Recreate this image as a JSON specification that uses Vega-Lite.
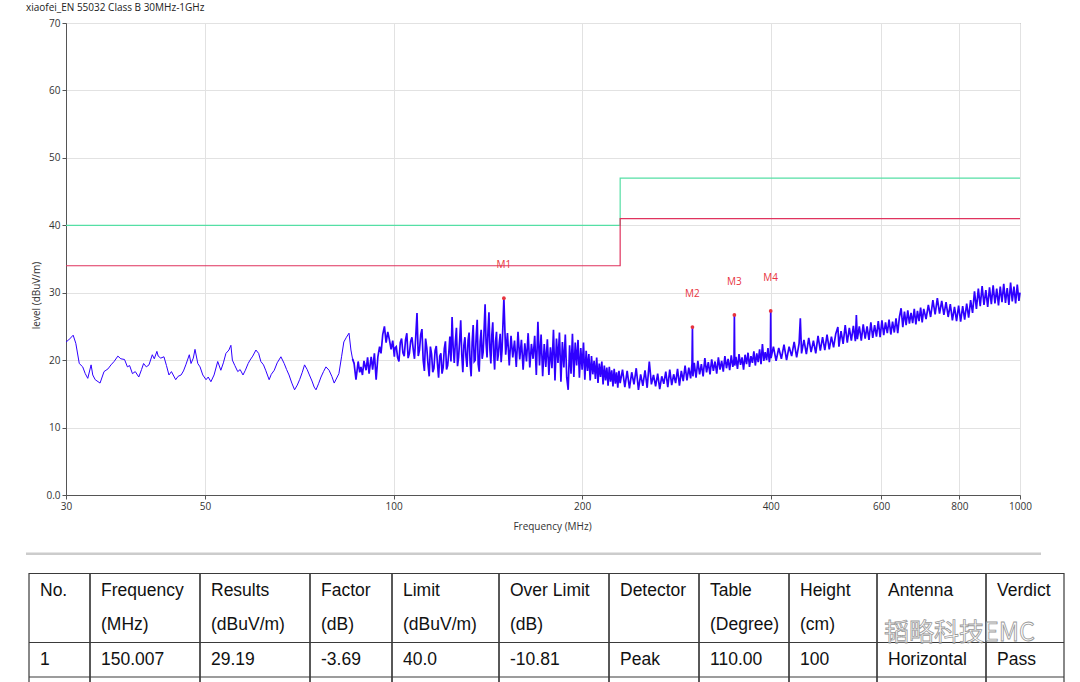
{
  "$schema": "https://vega.github.io/schema/vega-lite/v6.json",
  "background": "white",
  "padding": {"left": 24, "top": 2, "right": 0, "bottom": 0},
  "bounds": "flush",
  "spacing": 44,
  "config": {
    "view": {"stroke": null},
    "font": "Open Sans",
    "axis": {
      "labelFont": "Open Sans", "titleFont": "Open Sans",
      "labelFontSize": 10, "titleFontSize": 10, "titleFontWeight": "normal",
      "labelColor": "#333", "titleColor": "#333",
      "domainColor": "#555", "tickColor": "#555", "tickSize": 4,
      "gridColor": "#e2e2e2", "labelFlush": false, "labelOverlap": false, "labelPadding": 2
    }
  },
  "datasets": {
    "markers": [
      {"name": "M1", "f": 150.007, "v": 29.19},
      {"name": "M2", "f": 300.0, "v": 24.9},
      {"name": "M3", "f": 350.0, "v": 26.7},
      {"name": "M4", "f": 400.0, "v": 27.3}
    ],
    "limits": [
      {"lim": "Limit", "f": 30, "v": 40}, {"lim": "Limit", "f": 230, "v": 47}, {"lim": "Limit", "f": 1000, "v": 47},
      {"lim": "Margin", "f": 30, "v": 34}, {"lim": "Margin", "f": 230, "v": 41}, {"lim": "Margin", "f": 1000, "v": 41}
    ],
    "cols": [
      {"col": "No.", "start": 0, "end": 61},
      {"col": "Frequency", "start": 61, "end": 171},
      {"col": "Results", "start": 171, "end": 281},
      {"col": "Factor", "start": 281, "end": 363},
      {"col": "Limit", "start": 363, "end": 470},
      {"col": "Over Limit", "start": 470, "end": 580},
      {"col": "Detector", "start": 580, "end": 670},
      {"col": "Table", "start": 670, "end": 760},
      {"col": "Height", "start": 760, "end": 848},
      {"col": "Antenna", "start": 848, "end": 957},
      {"col": "Verdict", "start": 957, "end": 1035}
    ],
    "rowlines": [{"l": -0.5}, {"l": 1.5}, {"l": 2.5}],
    "cells": [
      {"col": "No.", "line": 0, "text": "No."},
      {"col": "No.", "line": 2, "text": "1"},
      {"col": "Frequency", "line": 0, "text": "Frequency"},
      {"col": "Frequency", "line": 1, "text": "(MHz)"},
      {"col": "Frequency", "line": 2, "text": "150.007"},
      {"col": "Results", "line": 0, "text": "Results"},
      {"col": "Results", "line": 1, "text": "(dBuV/m)"},
      {"col": "Results", "line": 2, "text": "29.19"},
      {"col": "Factor", "line": 0, "text": "Factor"},
      {"col": "Factor", "line": 1, "text": "(dB)"},
      {"col": "Factor", "line": 2, "text": "-3.69"},
      {"col": "Limit", "line": 0, "text": "Limit"},
      {"col": "Limit", "line": 1, "text": "(dBuV/m)"},
      {"col": "Limit", "line": 2, "text": "40.0"},
      {"col": "Over Limit", "line": 0, "text": "Over Limit"},
      {"col": "Over Limit", "line": 1, "text": "(dB)"},
      {"col": "Over Limit", "line": 2, "text": "-10.81"},
      {"col": "Detector", "line": 0, "text": "Detector"},
      {"col": "Detector", "line": 2, "text": "Peak"},
      {"col": "Table", "line": 0, "text": "Table"},
      {"col": "Table", "line": 1, "text": "(Degree)"},
      {"col": "Table", "line": 2, "text": "110.00"},
      {"col": "Height", "line": 0, "text": "Height"},
      {"col": "Height", "line": 1, "text": "(cm)"},
      {"col": "Height", "line": 2, "text": "100"},
      {"col": "Antenna", "line": 0, "text": "Antenna"},
      {"col": "Antenna", "line": 2, "text": "Horizontal"},
      {"col": "Verdict", "line": 0, "text": "Verdict"},
      {"col": "Verdict", "line": 2, "text": "Pass"}
    ],
    "trace": [
      {"f":30.0,"v":22.7},{"f":30.3,"v":23.0},{"f":30.8,"v":23.7},{"f":31.1,"v":22.5},{"f":31.5,"v":19.5},{"f":31.9,"v":19.0},{"f":32.2,"v":18.0},{"f":32.5,"v":17.3},{"f":32.9,"v":19.3},{"f":33.1,"v":17.8},{"f":33.4,"v":17.1},{"f":34.0,"v":16.6},{"f":34.5,"v":18.3},{"f":35.0,"v":18.7},{"f":35.4,"v":19.3},{"f":35.8,"v":19.8},{"f":36.3,"v":20.6},{"f":36.7,"v":20.2},{"f":37.2,"v":20.1},{"f":37.6,"v":19.0},{"f":37.9,"v":19.2},{"f":38.3,"v":18.0},{"f":38.7,"v":18.3},{"f":39.2,"v":17.5},{"f":39.6,"v":18.6},{"f":39.9,"v":19.5},{"f":40.3,"v":19.0},{"f":40.7,"v":19.3},{"f":41.2,"v":20.8},{"f":41.5,"v":20.2},{"f":41.9,"v":21.3},{"f":42.1,"v":20.6},{"f":42.5,"v":20.3},{"f":43.0,"v":20.5},{"f":43.4,"v":19.2},{"f":43.8,"v":17.8},{"f":44.2,"v":18.3},{"f":44.9,"v":17.1},{"f":45.3,"v":17.6},{"f":45.8,"v":17.8},{"f":46.2,"v":18.4},{"f":46.6,"v":19.3},{"f":47.2,"v":20.8},{"f":47.5,"v":19.5},{"f":47.9,"v":20.3},{"f":48.2,"v":21.6},{"f":48.7,"v":19.5},{"f":49.1,"v":19.0},{"f":49.6,"v":17.8},{"f":50.2,"v":17.1},{"f":50.6,"v":17.5},{"f":51.1,"v":16.8},{"f":51.7,"v":17.8},{"f":52.4,"v":19.8},{"f":53.0,"v":18.5},{"f":53.5,"v":19.6},{"f":54.0,"v":21.0},{"f":54.6,"v":21.5},{"f":55.0,"v":22.2},{"f":55.3,"v":20.0},{"f":55.8,"v":19.2},{"f":56.4,"v":18.3},{"f":56.9,"v":18.6},{"f":57.5,"v":17.8},{"f":58.0,"v":18.5},{"f":58.6,"v":19.5},{"f":59.0,"v":20.0},{"f":59.6,"v":20.6},{"f":60.3,"v":21.5},{"f":60.9,"v":21.0},{"f":61.4,"v":19.8},{"f":62.0,"v":19.3},{"f":62.5,"v":18.5},{"f":63.3,"v":17.1},{"f":63.8,"v":17.9},{"f":64.5,"v":18.5},{"f":65.2,"v":19.6},{"f":66.1,"v":20.5},{"f":66.9,"v":19.5},{"f":67.5,"v":18.6},{"f":68.1,"v":17.8},{"f":68.8,"v":16.6},{"f":69.5,"v":15.6},{"f":70.2,"v":16.3},{"f":70.8,"v":17.1},{"f":71.5,"v":18.2},{"f":72.1,"v":19.3},{"f":72.8,"v":18.6},{"f":73.4,"v":17.8},{"f":74.1,"v":16.9},{"f":74.7,"v":16.0},{"f":75.2,"v":15.6},{"f":75.9,"v":16.5},{"f":76.6,"v":17.5},{"f":77.3,"v":18.3},{"f":78.0,"v":19.0},{"f":78.9,"v":18.5},{"f":79.7,"v":17.6},{"f":80.4,"v":16.6},{"f":81.0,"v":17.2},{"f":81.8,"v":18.0},{"f":82.6,"v":20.5},{"f":83.3,"v":22.7},{"f":84.1,"v":23.4},{"f":84.9,"v":24.0},{"f":85.5,"v":21.5},{"f":86.0,"v":20.2},{"f":86.5,"v":19.5},{"f":87.1,"v":17.1},{"f":87.8,"v":19.8},{"f":88.3,"v":18.2},{"f":88.7,"v":19.0},{"f":89.2,"v":17.8},{"f":89.7,"v":19.9},{"f":90.4,"v":18.5},{"f":90.9,"v":20.4},{"f":91.4,"v":18.0},{"f":92.1,"v":20.5},{"f":92.6,"v":18.6},{"f":93.2,"v":21.0},{"f":93.8,"v":17.1},{"f":94.4,"v":20.5},{"f":95.0,"v":22.0},{"f":95.5,"v":21.0},{"f":96.1,"v":23.8},{"f":96.7,"v":25.0},{"f":97.3,"v":22.6},{"f":97.9,"v":24.2},{"f":98.5,"v":23.0},{"f":99.1,"v":21.6},{"f":99.7,"v":22.9},{"f":100.3,"v":20.5},
      {"f":100.5,"v":21.8},{"f":101,"v":22.0},{"f":101.5,"v":20.4},{"f":102,"v":19.8},{"f":102.5,"v":22.6},{"f":103,"v":23.2},{"f":103.5,"v":21.1},{"f":104,"v":20.6},{"f":104.5,"v":23.0},{"f":105,"v":24.0},{"f":105.5,"v":20.3},{"f":106,"v":21.0},{"f":106.5,"v":22.8},{"f":107,"v":23.4},{"f":107.5,"v":21.6},{"f":108,"v":20.2},{"f":108.5,"v":23.5},{"f":109,"v":27.0},{"f":109.5,"v":20.6},{"f":110,"v":21.5},{"f":110.5,"v":23.8},{"f":111,"v":24.6},{"f":111.5,"v":20.0},{"f":112,"v":18.4},{"f":112.5,"v":23.2},{"f":113,"v":21.8},{"f":113.5,"v":19.4},{"f":114,"v":17.6},{"f":114.5,"v":22.0},{"f":115,"v":20.9},{"f":115.5,"v":18.2},{"f":116,"v":18.8},{"f":116.5,"v":21.4},{"f":117,"v":22.1},{"f":117.5,"v":19.5},{"f":118,"v":17.4},{"f":118.5,"v":20.6},{"f":119,"v":21.0},{"f":119.5,"v":18.0},{"f":120,"v":18.9},{"f":120.5,"v":21.7},{"f":121,"v":22.8},{"f":121.5,"v":18.6},{"f":122,"v":19.2},{"f":122.5,"v":21.0},{"f":123,"v":23.5},{"f":123.5,"v":19.8},{"f":124,"v":26.4},{"f":124.5,"v":21.9},{"f":125,"v":19.6},{"f":125.5,"v":22.7},{"f":126,"v":24.8},{"f":126.5,"v":19.1},{"f":127,"v":20.4},{"f":127.5,"v":22.9},{"f":128,"v":25.9},{"f":128.5,"v":20.8},{"f":129,"v":18.2},{"f":129.5,"v":22.2},{"f":130,"v":23.4},{"f":130.5,"v":20.5},{"f":131,"v":19.0},{"f":131.5,"v":22.9},{"f":132,"v":24.1},{"f":132.5,"v":19.6},{"f":133,"v":17.6},{"f":133.5,"v":22.7},{"f":134,"v":25.2},{"f":134.5,"v":19.8},{"f":135,"v":20.0},{"f":135.5,"v":23.6},{"f":136,"v":26.0},{"f":136.5,"v":19.4},{"f":137,"v":18.3},{"f":137.5,"v":22.8},{"f":138,"v":24.5},{"f":138.5,"v":20.2},{"f":139,"v":21.2},{"f":139.5,"v":24.6},{"f":140,"v":28.3},{"f":140.5,"v":22.5},{"f":141,"v":20.4},{"f":141.5,"v":24.3},{"f":142,"v":27.1},{"f":142.5,"v":21.6},{"f":143,"v":19.5},{"f":143.5,"v":23.7},{"f":144,"v":25.6},{"f":144.5,"v":20.9},{"f":145,"v":18.6},{"f":145.5,"v":22.8},{"f":146,"v":24.2},{"f":146.5,"v":19.9},{"f":147,"v":20.8},{"f":147.5,"v":22.6},{"f":148,"v":23.9},{"f":148.5,"v":19.7},{"f":149,"v":21.5},{"f":150.007,"v":29.19},{"f":151,"v":20.8},{"f":152,"v":24.0},{"f":153,"v":19.2},{"f":154,"v":23.6},{"f":155,"v":20.4},{"f":156,"v":22.9},{"f":157,"v":19.0},{"f":158,"v":24.2},{"f":159,"v":20.1},{"f":160,"v":23.0},{"f":161,"v":18.6},{"f":162,"v":22.5},{"f":163,"v":19.8},{"f":164,"v":24.0},{"f":165,"v":18.9},{"f":166,"v":22.4},{"f":167,"v":20.2},{"f":168,"v":23.6},{"f":169,"v":17.8},{"f":170,"v":25.7},{"f":171,"v":19.2},{"f":172,"v":23.8},{"f":173,"v":17.6},{"f":174,"v":22.4},{"f":175,"v":19.0},{"f":176,"v":23.1},{"f":177,"v":17.8},{"f":178,"v":21.9},{"f":179,"v":18.8},{"f":180,"v":24.5},{"f":181,"v":17.0},{"f":182,"v":23.2},{"f":183,"v":19.6},{"f":184,"v":24.1},{"f":185,"v":16.8},{"f":186,"v":22.7},{"f":187,"v":18.9},{"f":188,"v":23.8},{"f":189,"v":17.4},{"f":190,"v":15.6},{"f":191,"v":22.2},{"f":192,"v":18.0},{"f":193,"v":23.9},{"f":194,"v":17.5},{"f":195,"v":22.6},{"f":196,"v":19.2},{"f":197,"v":23.0},{"f":198,"v":17.4},{"f":199,"v":21.8},{"f":200,"v":18.6},{"f":201,"v":22.6},{"f":202,"v":17.1},{"f":203,"v":21.4},{"f":204,"v":18.4},{"f":205,"v":20.9},{"f":206,"v":17.0},{"f":207,"v":20.6},{"f":208,"v":17.9},{"f":209,"v":19.9},{"f":210,"v":17.2},{"f":211,"v":20.4},{"f":212,"v":16.6},{"f":213,"v":19.5},{"f":214,"v":17.5},{"f":215,"v":19.8},{"f":216,"v":16.4},{"f":217,"v":19.2},{"f":218,"v":17.0},{"f":219,"v":18.9},{"f":220,"v":16.2},{"f":221,"v":19.0},{"f":222,"v":16.8},{"f":223,"v":18.5},{"f":224,"v":16.1},{"f":225,"v":18.7},{"f":226,"v":16.5},{"f":227,"v":18.2},{"f":228,"v":15.9},{"f":229,"v":18.4},{"f":230,"v":16.6},
      {"f":232,"v":18.6},{"f":234,"v":16.0},{"f":236,"v":18.4},{"f":238,"v":15.8},{"f":240,"v":18.2},{"f":242,"v":16.4},{"f":244,"v":18.8},{"f":246,"v":15.6},{"f":248,"v":17.9},{"f":250,"v":16.2},{"f":252,"v":18.5},{"f":254,"v":15.9},{"f":256,"v":19.8},{"f":258,"v":16.4},{"f":260,"v":17.8},{"f":262,"v":16.1},{"f":264,"v":18.0},{"f":266,"v":15.7},{"f":268,"v":17.6},{"f":270,"v":16.5},{"f":272,"v":18.3},{"f":274,"v":16.0},{"f":276,"v":18.6},{"f":278,"v":16.3},{"f":280,"v":17.9},{"f":282,"v":16.6},{"f":284,"v":18.7},{"f":286,"v":16.2},{"f":288,"v":18.4},{"f":290,"v":16.9},{"f":292,"v":19.2},{"f":294,"v":17.0},{"f":296,"v":18.9},{"f":298,"v":17.3},{"f":299.5,"v":19.5},{"f":300.0,"v":24.9},{"f":300.5,"v":17.6},{"f":302,"v":19.6},{"f":304,"v":17.4},{"f":306,"v":19.9},{"f":308,"v":17.9},{"f":310,"v":19.4},{"f":312,"v":17.6},{"f":314,"v":20.3},{"f":316,"v":18.2},{"f":318,"v":19.7},{"f":320,"v":17.9},{"f":322,"v":20.1},{"f":324,"v":18.4},{"f":326,"v":19.8},{"f":328,"v":18.0},{"f":330,"v":20.4},{"f":332,"v":18.6},{"f":334,"v":19.9},{"f":336,"v":18.3},{"f":338,"v":20.6},{"f":340,"v":18.8},{"f":342,"v":20.2},{"f":344,"v":18.5},{"f":346,"v":20.7},{"f":348,"v":19.0},{"f":349.5,"v":20.2},{"f":350.0,"v":26.7},{"f":350.5,"v":19.2},{"f":352,"v":20.5},{"f":354,"v":18.7},{"f":356,"v":20.9},{"f":358,"v":19.3},{"f":360,"v":20.4},{"f":362,"v":18.6},{"f":364,"v":20.8},{"f":366,"v":19.4},{"f":368,"v":21.1},{"f":370,"v":19.0},{"f":372,"v":20.6},{"f":374,"v":19.6},{"f":376,"v":21.3},{"f":378,"v":19.2},{"f":380,"v":21.0},{"f":382,"v":19.7},{"f":384,"v":21.6},{"f":386,"v":19.4},{"f":388,"v":22.4},{"f":390,"v":19.9},{"f":392,"v":21.2},{"f":394,"v":20.0},{"f":396,"v":21.8},{"f":398,"v":19.7},{"f":399.5,"v":21.0},{"f":400.0,"v":27.3},{"f":400.5,"v":20.3},
      {"f":404,"v":22.0},{"f":408,"v":19.9},{"f":412,"v":21.8},{"f":416,"v":20.2},{"f":420,"v":22.3},{"f":424,"v":20.0},{"f":428,"v":22.0},{"f":432,"v":20.6},{"f":436,"v":22.7},{"f":440,"v":20.4},{"f":444,"v":22.5},{"f":446,"v":26.2},{"f":448,"v":21.0},{"f":452,"v":23.0},{"f":456,"v":20.9},{"f":460,"v":23.3},{"f":464,"v":21.2},{"f":468,"v":22.9},{"f":472,"v":21.0},{"f":476,"v":23.6},{"f":480,"v":21.4},{"f":484,"v":23.4},{"f":488,"v":21.5},{"f":492,"v":23.8},{"f":496,"v":21.6},{"f":500,"v":23.5},{"f":504,"v":21.9},{"f":508,"v":23.9},{"f":512,"v":24.9},{"f":514,"v":22.0},{"f":518,"v":24.3},{"f":522,"v":22.4},{"f":526,"v":25.2},{"f":530,"v":22.6},{"f":534,"v":24.8},{"f":538,"v":22.9},{"f":542,"v":25.1},{"f":546,"v":22.8},{"f":548,"v":26.7},{"f":550,"v":23.1},{"f":554,"v":25.0},{"f":558,"v":22.9},{"f":562,"v":25.3},{"f":566,"v":23.2},{"f":570,"v":25.0},{"f":574,"v":23.0},{"f":578,"v":25.6},{"f":582,"v":23.3},{"f":586,"v":25.2},{"f":590,"v":23.5},{"f":594,"v":25.8},{"f":598,"v":23.4},{"f":602,"v":25.9},{"f":606,"v":23.7},{"f":610,"v":25.6},{"f":614,"v":24.0},{"f":618,"v":26.0},{"f":622,"v":23.8},{"f":626,"v":25.7},{"f":630,"v":24.1},{"f":634,"v":26.2},{"f":638,"v":24.0},{"f":642,"v":26.4},{"f":646,"v":27.7},{"f":650,"v":24.9},{"f":654,"v":27.2},{"f":658,"v":25.2},{"f":662,"v":27.4},{"f":666,"v":25.4},{"f":670,"v":27.0},{"f":674,"v":25.5},{"f":678,"v":27.6},{"f":682,"v":25.3},{"f":686,"v":27.3},{"f":690,"v":25.8},{"f":694,"v":27.8},{"f":698,"v":25.6},
      {"f":702,"v":27.6},{"f":708,"v":26.1},{"f":714,"v":28.2},{"f":720,"v":26.4},{"f":726,"v":28.9},{"f":732,"v":26.8},{"f":738,"v":29.2},{"f":744,"v":26.9},{"f":750,"v":28.8},{"f":756,"v":26.7},{"f":762,"v":28.6},{"f":768,"v":26.4},{"f":774,"v":28.3},{"f":780,"v":25.9},{"f":786,"v":27.9},{"f":792,"v":25.8},{"f":798,"v":28.1},{"f":804,"v":25.7},{"f":810,"v":28.0},{"f":816,"v":26.0},{"f":822,"v":28.4},{"f":828,"v":26.3},{"f":834,"v":28.9},{"f":840,"v":27.0},{"f":846,"v":30.2},{"f":852,"v":27.6},{"f":858,"v":30.6},{"f":864,"v":28.0},{"f":870,"v":31.0},{"f":876,"v":28.2},{"f":882,"v":30.4},{"f":888,"v":27.9},{"f":894,"v":30.8},{"f":900,"v":28.3},{"f":906,"v":31.1},{"f":912,"v":28.4},{"f":918,"v":30.6},{"f":924,"v":28.1},{"f":930,"v":30.9},{"f":936,"v":28.6},{"f":942,"v":31.3},{"f":948,"v":28.5},{"f":954,"v":30.7},{"f":960,"v":28.2},{"f":966,"v":31.5},{"f":972,"v":28.7},{"f":978,"v":30.9},{"f":984,"v":28.4},{"f":990,"v":31.2},{"f":996,"v":28.8},{"f":1000,"v":30.0}
    ]
  },
  "vconcat": [
    {
      "width": 954,
      "height": 472,
      "view": {"stroke": "#777"},
      "title": {
        "text": "xiaofei_EN 55032 Class B 30MHz-1GHz",
        "anchor": "start", "frame": "group", "dx": -40, "offset": 5,
        "fontSize": 10, "fontWeight": "normal", "color": "#222", "font": "Open Sans"
      },
      "encoding": {
        "x": {
          "field": "f", "type": "quantitative",
          "scale": {"type": "log", "domain": [30, 1000], "nice": false},
          "axis": {"title": "Frequency (MHz)", "values": [30, 50, 100, 200, 400, 600, 800, 1000], "format": "d", "titleX": 486, "titleY": 26}
        },
        "y": {
          "field": "v", "type": "quantitative",
          "scale": {"domain": [0, 70], "nice": false, "zero": false},
          "axis": {"title": "level (dBuV/m)", "values": [0, 10, 20, 30, 40, 50, 60, 70], "labelExpr": "datum.value === 0 ? '0.0' : datum.label", "titleX": -25, "titleY": 272}
        }
      },
      "layer": [
        {
          "data": {"name": "trace"},
          "transform": [{"filter": "datum.f <= 86.5"}],
          "mark": {"type": "line", "color": "#2f00ff", "strokeWidth": 1}
        },
        {
          "data": {"name": "trace"},
          "transform": [{"filter": "datum.f >= 86"}],
          "mark": {"type": "line", "color": "#2f00ff", "strokeWidth": 1.7}
        },
        {
          "data": {"name": "limits"},
          "mark": {"type": "line", "interpolate": "step-after", "strokeWidth": 1.2},
          "encoding": {"color": {"field": "lim", "type": "nominal", "scale": {"domain": ["Limit", "Margin"], "range": ["#55dfa5", "#e0335e"]}, "legend": null}}
        },
        {"data": {"name": "markers"}, "mark": {"type": "point", "filled": true, "size": 14, "color": "#e8343e", "opacity": 1}},
        {"data": {"name": "markers"}, "mark": {"type": "text", "dy": -33, "fontSize": 10, "color": "#e8343e"}, "encoding": {"text": {"field": "name"}}}
      ]
    },
    {
      "width": 1015,
      "height": 172.5,
      "view": {"stroke": null},
      "layer": [
        {
          "data": {"values": [{}]},
          "mark": {"type": "rule", "color": "#cccccc", "strokeWidth": 2.5},
          "encoding": {
            "x": {"datum": -3, "type": "quantitative", "scale": {"domain": [37, 1052], "nice": false, "zero": false}, "axis": null},
            "x2": {"datum": 1012},
            "y": {"datum": -1.07, "type": "quantitative", "scale": {"domain": [-1.5, 3.5], "nice": false, "zero": false, "reverse": true}, "axis": null}
          }
        },
        {
          "data": {"name": "cols"},
          "mark": {"type": "rect", "fill": null, "stroke": "#3a3a3a", "strokeWidth": 1.2},
          "encoding": {
            "x": {"field": "start", "type": "quantitative", "scale": {"domain": [37, 1052], "nice": false, "zero": false}, "axis": null},
            "x2": {"field": "end"},
            "y": {"datum": -0.5, "type": "quantitative", "scale": {"domain": [-1.5, 3.5], "nice": false, "zero": false, "reverse": true}, "axis": null},
            "y2": {"datum": 3.6}
          }
        },
        {
          "data": {"name": "rowlines"},
          "mark": {"type": "rule", "color": "#3a3a3a", "strokeWidth": 1.2},
          "encoding": {
            "x": {"datum": 0, "type": "quantitative", "scale": {"domain": [37, 1052], "nice": false, "zero": false}, "axis": null},
            "x2": {"datum": 1035},
            "y": {"field": "l", "type": "quantitative", "scale": {"domain": [-1.5, 3.5], "nice": false, "zero": false, "reverse": true}, "axis": null}
          }
        },
        {
          "data": {"name": "cells"},
          "transform": [{"lookup": "col", "from": {"data": {"name": "cols"}, "key": "col", "fields": ["start"]}}],
          "mark": {"type": "text", "align": "left", "baseline": "middle", "dx": 11, "font": "Liberation Sans", "fontSize": 17.5, "color": "#111"},
          "encoding": {
            "x": {"field": "start", "type": "quantitative", "scale": {"domain": [37, 1052], "nice": false, "zero": false}, "axis": null},
            "y": {"field": "line", "type": "quantitative", "scale": {"domain": [-1.5, 3.5], "nice": false, "zero": false, "reverse": true}, "axis": null},
            "text": {"field": "text"}
          }
        },
        {
          "data": {"values": [{"mark": "韬略科技EMC"}]},
          "mark": {"type": "text", "align": "left", "baseline": "middle", "font": "Noto Sans CJK SC", "fontSize": 25, "fill": "white", "fillOpacity": 0.5, "stroke": "#999999", "strokeWidth": 0.8},
          "encoding": {
            "x": {"datum": 855, "type": "quantitative", "scale": {"domain": [37, 1052], "nice": false, "zero": false}, "axis": null},
            "y": {"datum": 1.22, "type": "quantitative", "scale": {"domain": [-1.5, 3.5], "nice": false, "zero": false, "reverse": true}, "axis": null},
            "text": {"field": "mark"}
          }
        }
      ]
    }
  ]
}
